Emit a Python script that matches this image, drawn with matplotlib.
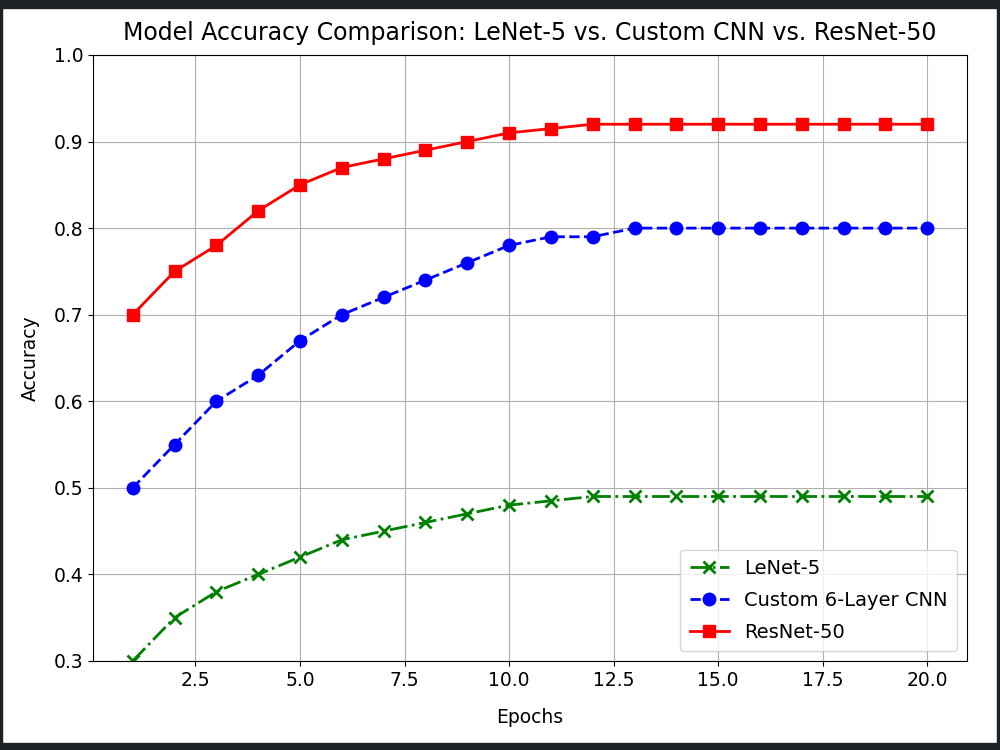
import matplotlib.pyplot as plt
from matplotlib.patches import Rectangle

epochs = list(range(1, 21))
lenet = [0.30, 0.35, 0.38, 0.40, 0.42, 0.44, 0.45, 0.46, 0.47, 0.48,
         0.485, 0.49, 0.49, 0.49, 0.49, 0.49, 0.49, 0.49, 0.49, 0.49]
custom_cnn = [0.50, 0.55, 0.60, 0.63, 0.67, 0.70, 0.72, 0.74, 0.76, 0.78,
              0.79, 0.79, 0.80, 0.80, 0.80, 0.80, 0.80, 0.80, 0.80, 0.80]
resnet = [0.70, 0.75, 0.78, 0.82, 0.85, 0.87, 0.88, 0.89, 0.90, 0.91,
          0.915, 0.92, 0.92, 0.92, 0.92, 0.92, 0.92, 0.92, 0.92, 0.92]

fig = plt.figure(figsize=(10, 7.5), dpi=100)
ax = fig.add_axes([0.093, 0.1187, 0.874, 0.808])

ax.plot(epochs, lenet, 'x-.', color='green', lw=2, ms=9, mew=2, label='LeNet-5')
ax.plot(epochs, custom_cnn, 'o--', color='blue', lw=2, ms=9, label='Custom 6-Layer CNN')
ax.plot(epochs, resnet, 's-', color='red', lw=2, ms=9, label='ResNet-50')

ax.set_ylim(0.3, 1.0)
ax.set_title('Model Accuracy Comparison: LeNet-5 vs. Custom CNN vs. ResNet-50',
             fontsize=17, pad=11)
ax.set_xlabel('Epochs', fontsize=13.5, labelpad=13)
ax.set_ylabel('Accuracy', fontsize=13.5, labelpad=10)
ax.tick_params(labelsize=13.5)
ax.grid(True)
ax.legend(loc='lower right', fontsize=14, labelspacing=0.65, handlelength=2.0,
          borderpad=0.5)

# dark screenshot frame
frame_color = '#1f2226'
fig.patches.append(Rectangle((0, 0.989), 1, 0.011, transform=fig.transFigure, color=frame_color))
fig.patches.append(Rectangle((0, 0), 1, 0.01, transform=fig.transFigure, color=frame_color))
fig.patches.append(Rectangle((0, 0), 0.002, 1, transform=fig.transFigure, color=frame_color))
fig.patches.append(Rectangle((0.997, 0), 0.003, 1, transform=fig.transFigure, color=frame_color))

plt.savefig('out.png', dpi=100)
